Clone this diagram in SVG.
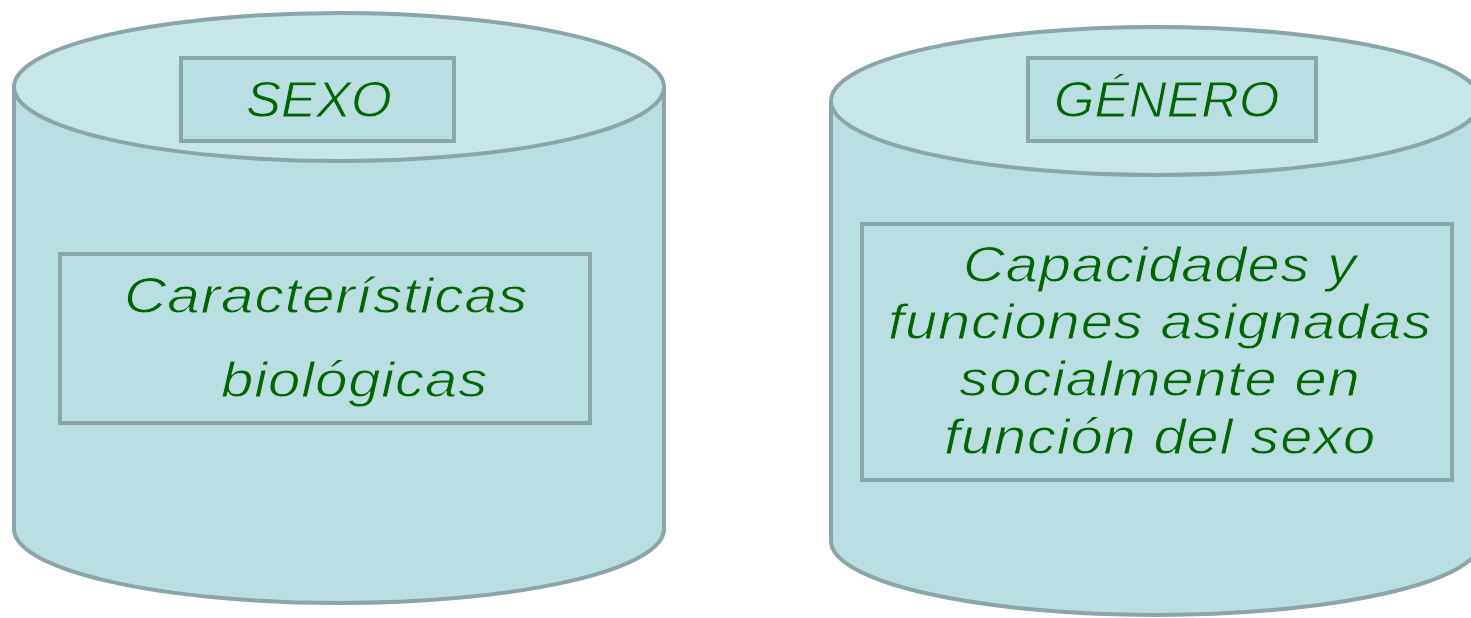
<svg xmlns="http://www.w3.org/2000/svg" width="1471" height="618" viewBox="0 0 1471 618">
<style>
.body{fill:#b9dfe2;stroke:#8ba5a8;stroke-width:4}
.top{fill:#c8e6e8;stroke:#8ba5a8;stroke-width:4}
.box{fill:#b9dfe2;stroke:#8ba5a8;stroke-width:4}
.t{font-family:"Liberation Sans",Arial,sans-serif;font-style:italic;font-size:50px;fill:#006400;stroke:#b9dfe2;stroke-width:0.9px}
.w{letter-spacing:0.8px}
</style>
<rect width="1471" height="618" fill="#ffffff"/>
<g id="sexo">
<path class="body" d="M14,87 L14,529 A325,74 0 0 0 664,529 L664,87"/>
<ellipse class="top" cx="339" cy="87" rx="325" ry="74"/>
<rect class="box" x="181" y="58" width="273" height="83"/>
<text class="t" transform="translate(246,117) scale(1.05,1)" x="0" y="0">SEXO</text>
<rect class="box" x="60" y="254" width="530" height="169"/>
<text class="t w" transform="translate(124,313) scale(1.17,1)" x="0" y="0">Características</text>
<text class="t w" transform="translate(221,397) scale(1.16,1)" x="0" y="0">biológicas</text>
</g>
<g id="genero">
<path class="body" d="M831,101 L831,541 A325,74 0 0 0 1481,541 L1481,101"/>
<ellipse class="top" cx="1156" cy="101" rx="325" ry="74"/>
<rect class="box" x="1028" y="58" width="288" height="83"/>
<text class="t" transform="translate(1054,117) scale(1.04,1)" x="0" y="0">GÉNERO</text>
<rect class="box" x="862" y="224" width="590" height="256"/>
<g class="t w" text-anchor="middle">
<text transform="translate(1160,282) scale(1.155,1)" x="0" y="0">Capacidades y</text>
<text transform="translate(1160,339) scale(1.155,1)" x="0" y="0">funciones asignadas</text>
<text transform="translate(1160,396) scale(1.155,1)" x="0" y="0">socialmente en</text>
<text transform="translate(1160,454) scale(1.155,1)" x="0" y="0">función del sexo</text>
</g>
</g>
<g id="connectors"></g>
</svg>
